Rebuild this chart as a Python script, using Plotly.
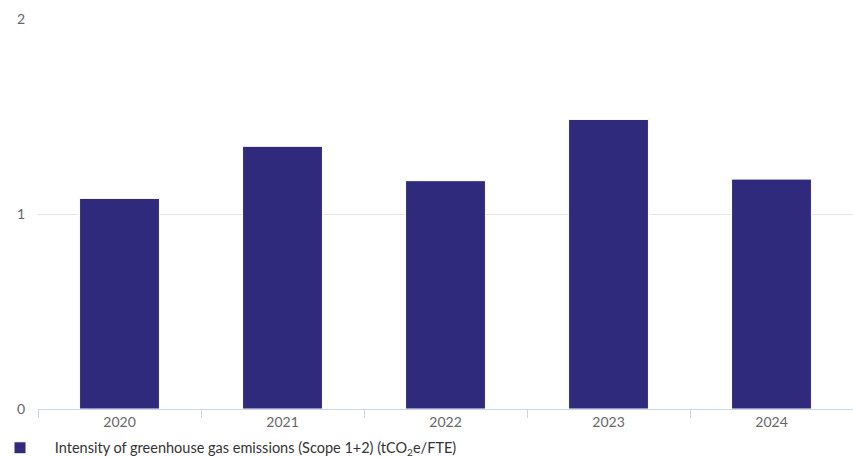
import plotly.graph_objects as go

years = ["2020", "2021", "2022", "2023", "2024"]
intensity = [1.08, 1.347, 1.171, 1.485, 1.179]
series_name = "\u00a0\u00a0\u00a0\u00a0Intensity of greenhouse gas emissions (Scope 1+2) (tCO<sub>2</sub>e/FTE)"
y_ticks = [0, 1, 2]

fig = go.Figure()
fig.add_trace(go.Bar(
    x=years, y=intensity, name=series_name,
    marker=dict(color="#2f2a7c", line=dict(color="#ffffff", width=1)),
    showlegend=True,
))

fig.update_layout(
    width=853, height=457,
    margin=dict(l=38, r=0, t=19, b=48),
    plot_bgcolor="#ffffff", paper_bgcolor="#ffffff",
    font=dict(family="Lato, Inter, sans-serif", size=13, color="#666666"),
    bargap=0.51,
    showlegend=True,
    legend=dict(
        orientation="h", xref="container", x=0, xanchor="left",
        yref="container", y=0.02, yanchor="middle",
        font=dict(size=14.5, color="#333333"), itemwidth=30,
        bgcolor="rgba(0,0,0,0)",
    ),
    xaxis=dict(
        type="category", showgrid=False, showline=True, linecolor="#ccd6eb", linewidth=1,
        ticks="outside", tickson="boundaries", ticklen=8, tickcolor="#ccd6eb",
        tickfont=dict(size=14, color="#666666"),
    ),
    yaxis=dict(
        range=[0, 2], tickvals=y_ticks, showgrid=True, gridcolor="#e6e6e6",
        zeroline=False, showline=False, ticks="", ticklabelstandoff=12,
        tickfont=dict(size=14, color="#666666"),
    ),
)

fig.write_html("out.html")
